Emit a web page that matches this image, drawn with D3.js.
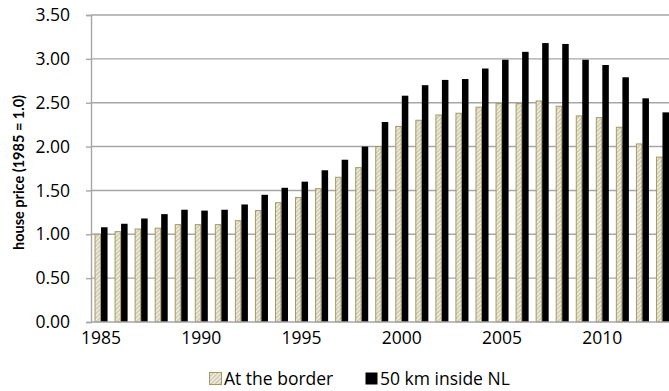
<!DOCTYPE html>
<html>
<head>
<meta charset="utf-8">
<script src="https://cdn.jsdelivr.net/npm/d3@7"></script>
<style>
  html, body { margin: 0; padding: 0; background: #fff; }
  svg { display: block; font-family: "Open Sans", sans-serif; }
</style>
</head>
<body>
<svg id="chart" width="669" height="391"></svg>
<script>
const years = d3.range(1985, 2014);
const seriesNames = ["At the border", "50 km inside NL"];
const atBorder = [1.00, 1.03, 1.06, 1.07, 1.11, 1.11, 1.11, 1.155, 1.27, 1.36,
                  1.42, 1.52, 1.65, 1.76, 2.00, 2.23, 2.30, 2.36, 2.38, 2.45,
                  2.49, 2.49, 2.52, 2.46, 2.35, 2.33, 2.22, 2.03, 1.88];
const inside50 = [1.08, 1.12, 1.18, 1.23, 1.28, 1.27, 1.28, 1.34, 1.45, 1.53,
                  1.60, 1.73, 1.85, 2.00, 2.28, 2.58, 2.70, 2.76, 2.77, 2.89,
                  2.99, 3.08, 3.18, 3.17, 2.99, 2.93, 2.79, 2.55, 2.39];
const yTicks = [0, 0.5, 1, 1.5, 2, 2.5, 3, 3.5];
const xTickYears = [1985, 1990, 1995, 2000, 2005, 2010];
const yLabel = "house price (1985 = 1.0)";

const svg = d3.select("#chart");
const pLeft = 91, pTop = 15, pBottom = 322, pRight = 672.5;
const FONT = "'Open Sans', sans-serif";

// pattern for hatched bars
const defs = svg.append("defs");
const pat = defs.append("pattern")
  .attr("id", "hatch").attr("patternUnits", "userSpaceOnUse")
  .attr("width", 3).attr("height", 3)
  .attr("patternTransform", "rotate(45)");
pat.append("rect").attr("width", 3).attr("height", 3).attr("fill", "#f2f0e6");
pat.append("rect").attr("width", 1.4).attr("height", 3).attr("fill", "#c9c3a6");

const x0 = d3.scaleBand().domain(years).range([pLeft, pRight])
  .paddingInner(0.35).paddingOuter(0.175);
const x1 = d3.scaleBand().domain(seriesNames).range([0, x0.bandwidth()]);
const y = d3.scaleLinear().domain([0, 3.5]).range([pBottom, pTop]);

// gridlines
svg.append("g").selectAll("line").data(yTicks.filter(d => d > 0)).join("line")
  .attr("x1", pLeft).attr("x2", 669)
  .attr("y1", d => y(d)).attr("y2", d => y(d))
  .attr("stroke", "#a6a6a6").attr("stroke-width", 1.4);

// y axis
const yAxis = d3.axisLeft(y).tickValues(yTicks).tickFormat(d3.format(".2f"))
  .tickSize(5).tickPadding(16);
const gy = svg.append("g").attr("transform", `translate(${pLeft},0)`).call(yAxis);
gy.select(".domain").attr("stroke", "#a6a6a6").attr("stroke-width", 1.4);
gy.selectAll(".tick line").attr("stroke", "#a6a6a6").attr("stroke-width", 1.4);
gy.selectAll(".tick text").attr("font-size", 17.5).attr("fill", "#000")
  .attr("font-family", FONT);

// bars
const data = years.map((yr, i) => ({year: yr, vals: [atBorder[i], inside50[i]]}));
const groups = svg.append("g").selectAll("g").data(data).join("g")
  .attr("transform", d => `translate(${x0(d.year)},0)`);
groups.append("rect")
  .attr("x", x1(seriesNames[0]) + 0.5).attr("width", x1.bandwidth() - 1)
  .attr("y", d => y(d.vals[0])).attr("height", d => y(0) - y(d.vals[0]))
  .attr("fill", "url(#hatch)").attr("stroke", "#a39a62").attr("stroke-width", 1);
groups.append("rect")
  .attr("x", x1(seriesNames[1])).attr("width", x1.bandwidth())
  .attr("y", d => y(d.vals[1])).attr("height", d => y(0) - y(d.vals[1]))
  .attr("fill", "#000");

// x axis
const xAxis = d3.axisBottom(x0).tickValues(xTickYears).tickSize(0).tickPadding(10);
const gx = svg.append("g").attr("transform", `translate(0,${pBottom})`).call(xAxis);
gx.select(".domain").attr("d", `M${pLeft},0H669`).attr("stroke", "#a6a6a6").attr("stroke-width", 1.4);
gx.selectAll(".tick text").attr("font-size", 17.5).attr("fill", "#000")
  .attr("font-family", FONT);

// y label
svg.append("text")
  .attr("transform", `translate(24,${(pTop + pBottom) / 2 + 4}) rotate(-90)`)
  .attr("text-anchor", "middle").attr("font-size", 14.5).attr("font-weight", "bold")
  .attr("font-family", "Lato, sans-serif")
  .text(yLabel);

// legend
const legend = svg.append("g");
const legItems = [
  {name: seriesNames[0], x: 209, fill: "url(#hatch)", stroke: "#a39a62"},
  {name: seriesNames[1], x: 365, fill: "#000", stroke: "none"}
];
legItems.forEach(it => {
  legend.append("rect").attr("x", it.x + 0.5).attr("y", 372.5).attr("width", 12).attr("height", 12)
    .attr("fill", it.fill).attr("stroke", it.stroke);
  legend.append("text").attr("x", it.x + 15).attr("y", 385)
    .attr("font-size", 17.5).attr("font-family", FONT).attr("fill", "#000")
    .text(it.name);
});
</script>
</body>
</html>
